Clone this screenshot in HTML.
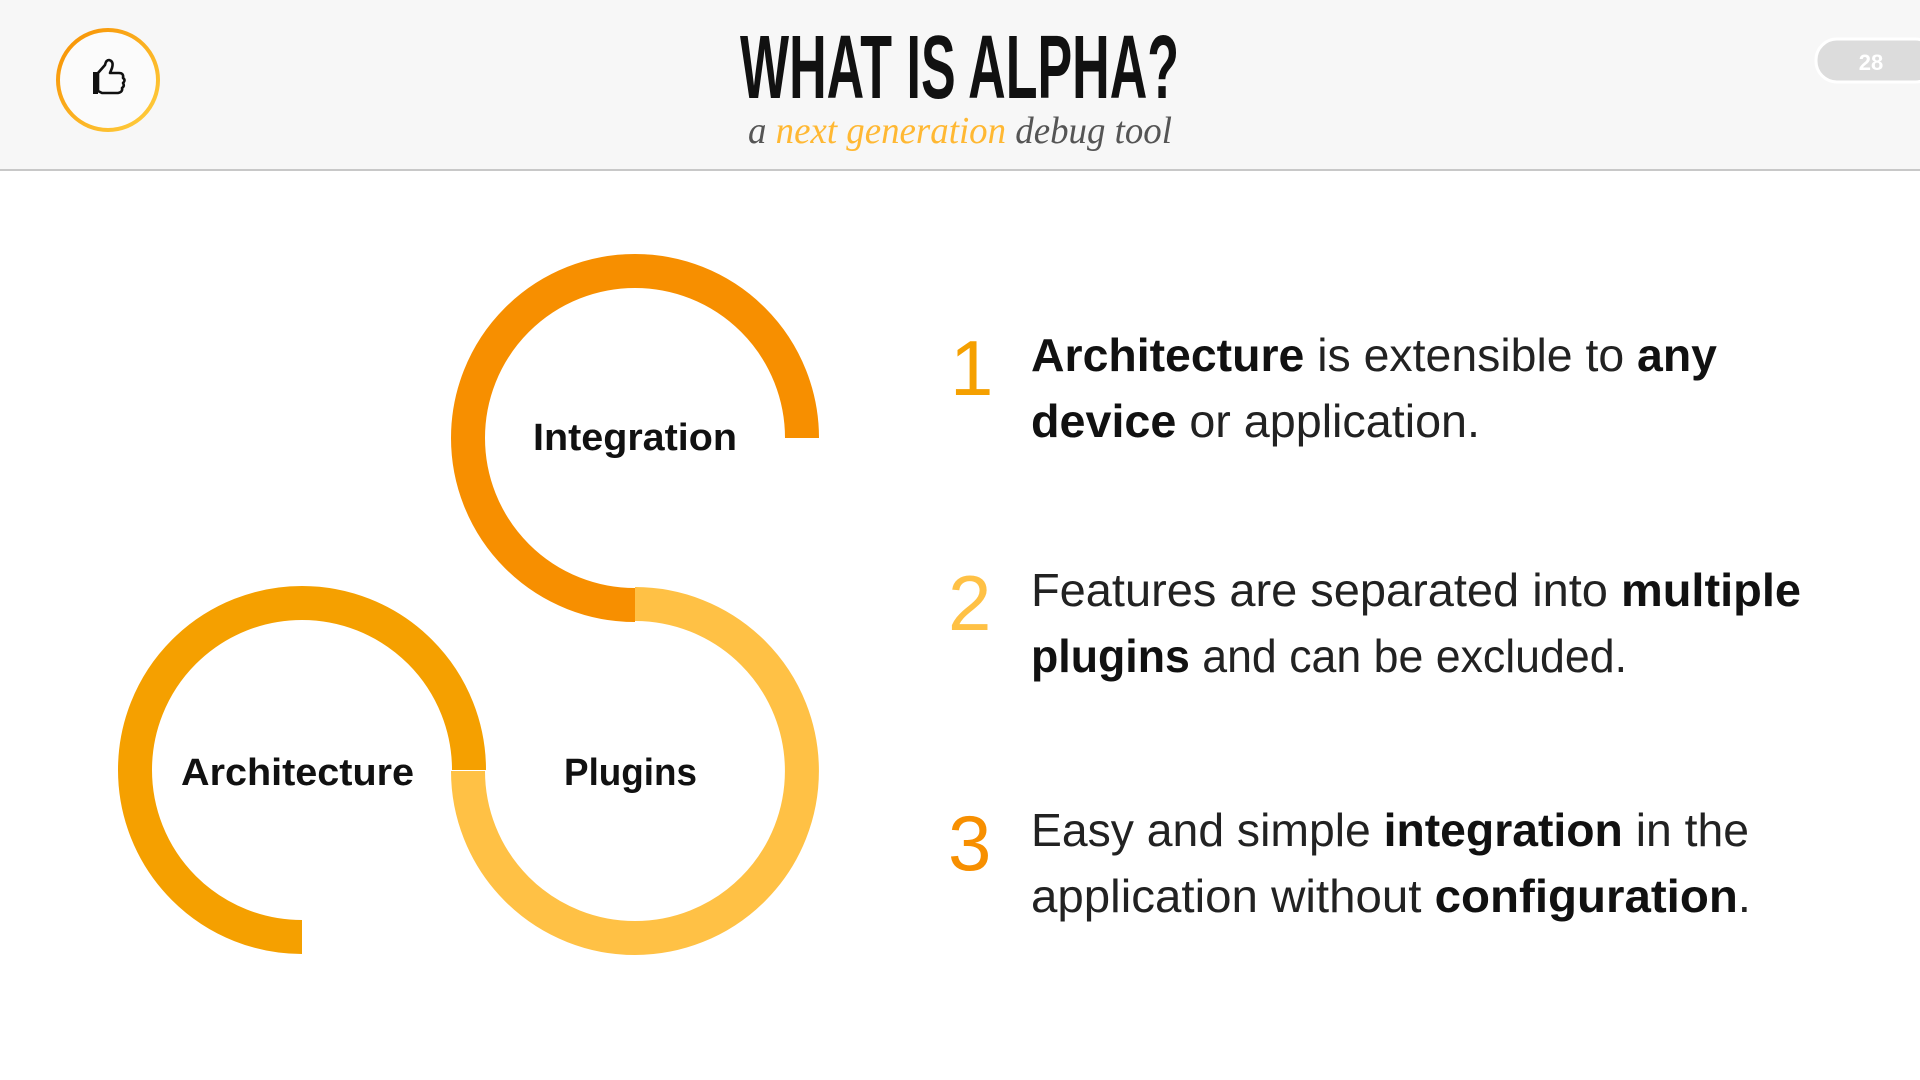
<!DOCTYPE html>
<html><head><meta charset="utf-8"><style>
html,body{margin:0;padding:0;background:#fff;width:1920px;height:1080px;overflow:hidden}
svg{display:block}
</style></head><body>
<svg width="1920" height="1080" viewBox="0 0 1920 1080" xmlns="http://www.w3.org/2000/svg">
<defs>
<linearGradient id="rg" x1="0" y1="0" x2="1" y2="1">
<stop offset="0" stop-color="#F78F00"/><stop offset="1" stop-color="#FFD040"/>
</linearGradient>
</defs>
<rect x="0" y="0" width="1920" height="170" fill="#f7f7f7"/>
<rect x="0" y="169" width="1920" height="2" fill="#c8c8c8"/>
<!-- icon -->
<circle cx="108" cy="80" r="50" fill="#fbfbfb" stroke="url(#rg)" stroke-width="4"/>
<path d="M93 72 h5 v22 h-5 z" fill="#111"/>
<path d="M98 73 l7 -8 q1 -5 4 -5 q5 1 3 8 l-2 5 h9 q5 0 4 5 q3 2 0 5 q2 3 -1 5 q1 4 -4 5 h-16 l-4 -2 z" fill="none" stroke="#111" stroke-width="2.6" stroke-linejoin="round"/>
<!-- title -->
<text x="740" y="98" textLength="439" lengthAdjust="spacingAndGlyphs" font-family="'Liberation Sans Narrow','Liberation Sans',sans-serif" font-weight="bold" font-size="90" fill="#111">WHAT IS ALPHA?</text>
<text x="748" y="143" textLength="424" lengthAdjust="spacingAndGlyphs" font-family="'Liberation Serif',serif" font-style="italic" font-size="38" fill="#555">a <tspan fill="#FFB833">next generation</tspan> debug tool</text>
<!-- page badge -->
<rect x="1816" y="39" width="120" height="43" rx="21" fill="#dcdcdc" stroke="#fff" stroke-width="3"/>
<text x="1871" y="70" text-anchor="middle" font-family="'Liberation Sans',sans-serif" font-weight="bold" font-size="22" fill="#fff">28</text>
<!-- arcs -->
<path d="M802 438 A167 167 0 0 0 468 438 A167 167 0 0 0 635 605" fill="none" stroke="#F78F00" stroke-width="34"/>
<path d="M635 604 A167 167 0 0 1 635 938 A167 167 0 0 1 468 771" fill="none" stroke="#FFC145" stroke-width="34"/>
<path d="M469 770 A167 167 0 0 0 135 770 A167 167 0 0 0 302 937" fill="none" stroke="#F5A000" stroke-width="34"/>
<g font-family="'Liberation Sans',sans-serif" font-weight="bold" font-size="38" fill="#111">
<text x="533" y="450" textLength="204" lengthAdjust="spacingAndGlyphs">Integration</text>
<text x="181" y="785" textLength="233" lengthAdjust="spacingAndGlyphs">Architecture</text>
<text x="564" y="785" textLength="133" lengthAdjust="spacingAndGlyphs">Plugins</text>
</g>
<!-- numbers -->
<g font-family="'Liberation Sans',sans-serif" font-size="78">
<text x="950" y="395" fill="#F5A000">1</text>
<text x="948" y="630" fill="#FFC145">2</text>
<text x="948" y="870" fill="#F78F00">3</text>
</g>
<g font-family="'Liberation Sans',sans-serif" font-size="46" fill="#222">
<text x="1031" y="371" textLength="686" lengthAdjust="spacingAndGlyphs"><tspan font-weight="bold" fill="#111">Architecture</tspan> is extensible to <tspan font-weight="bold" fill="#111">any</tspan></text>
<text x="1031" y="437" textLength="449" lengthAdjust="spacingAndGlyphs"><tspan font-weight="bold" fill="#111">device</tspan> or application.</text>
<text x="1031" y="606" textLength="770" lengthAdjust="spacingAndGlyphs">Features are separated into <tspan font-weight="bold" fill="#111">multiple</tspan></text>
<text x="1031" y="672" textLength="596" lengthAdjust="spacingAndGlyphs"><tspan font-weight="bold" fill="#111">plugins</tspan> and can be excluded.</text>
<text x="1031" y="846" textLength="718" lengthAdjust="spacingAndGlyphs">Easy and simple <tspan font-weight="bold" fill="#111">integration</tspan> in the</text>
<text x="1031" y="912" textLength="720" lengthAdjust="spacingAndGlyphs">application without <tspan font-weight="bold" fill="#111">configuration</tspan>.</text>
</g>
</svg>
</body></html>
